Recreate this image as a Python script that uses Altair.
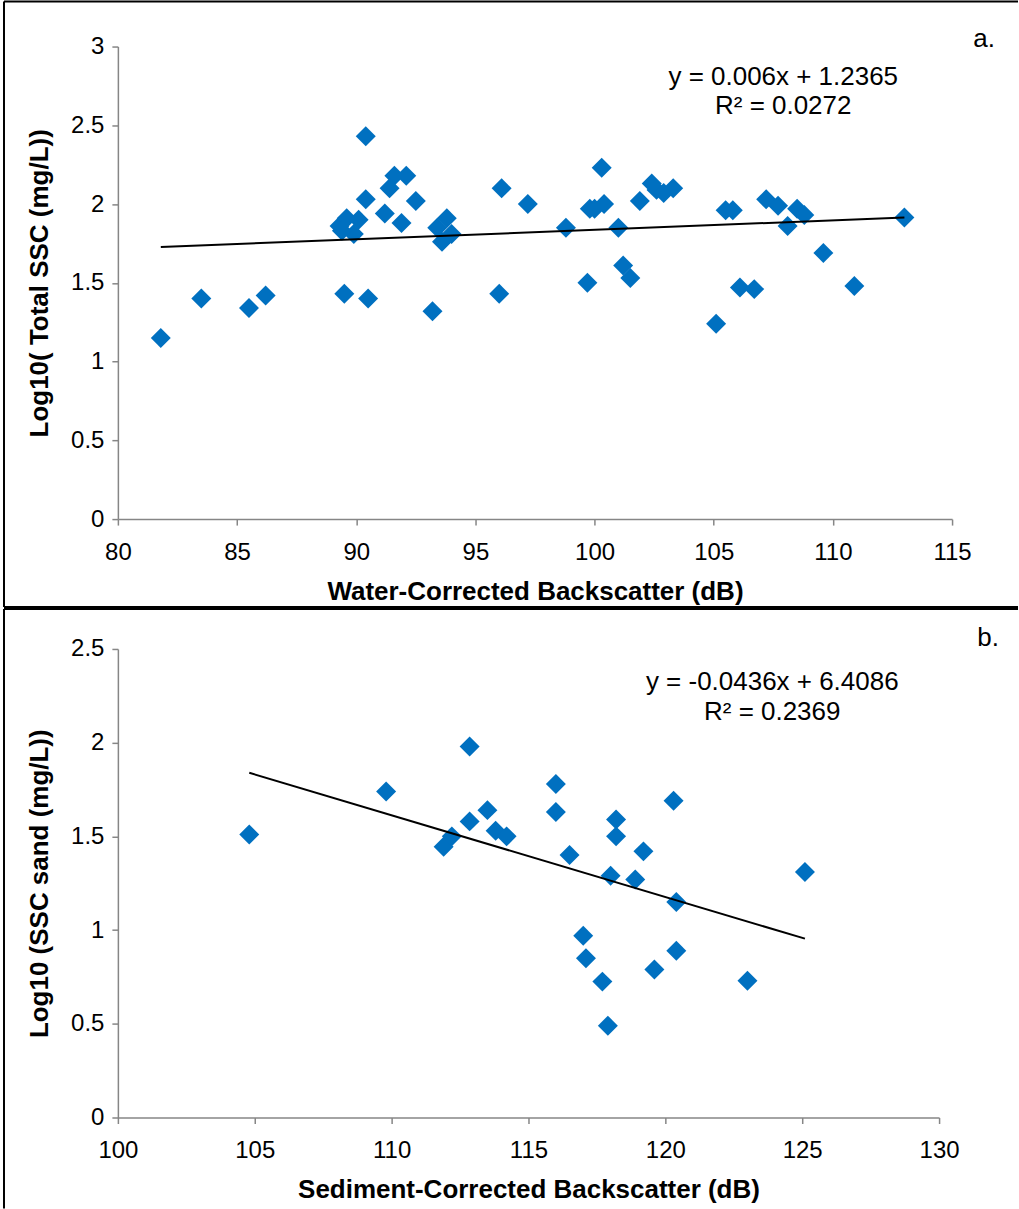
import altair as alt
import pandas as pd

# ---- Panel a: Water-corrected backscatter vs log10 total SSC ----
a_x = [81.8, 83.5, 85.5, 86.2, 89.5, 90.5, 93.2, 96.0, 99.7, 101.2, 101.5, 105.1, 106.1, 106.7,
       109.6, 110.9, 113.0,
       90.4, 91.6, 92.1, 91.4, 90.4, 92.5, 91.2, 91.9,
       89.3, 89.6, 90.1, 89.9, 89.4,
       93.8, 93.4, 94.0, 93.6,
       96.1, 97.2, 98.8, 100.3, 99.8, 100.0, 100.4, 101.0, 101.9, 102.4, 102.6, 102.9, 103.3,
       105.5, 105.8, 107.2, 107.7, 108.5, 108.8, 108.1]
a_y = [1.15, 1.40, 1.34, 1.42, 1.43, 1.40, 1.32, 1.43, 1.50, 1.61, 1.53, 1.24, 1.47, 1.46,
       1.69, 1.48, 1.915,
       2.43, 2.18, 2.18, 2.10, 2.03, 2.02, 1.94, 1.88,
       1.86, 1.91, 1.90, 1.81, 1.83,
       1.91, 1.85, 1.81, 1.76,
       2.10, 2.00, 1.85, 2.23, 1.97, 1.97, 2.00, 1.85, 2.02, 2.13, 2.09, 2.07, 2.10,
       1.96, 1.96, 2.03, 1.99, 1.97, 1.93, 1.86]
a_slope, a_intercept = 0.006, 1.2365
a_eq = "y = 0.006x + 1.2365"
a_r2 = "R² = 0.0272"

# ---- Panel b: Sediment-corrected backscatter vs log10 SSC sand ----
b_x = [104.8, 109.8, 112.85, 112.85, 113.5, 113.8, 114.2, 111.9, 112.2, 116.0, 116.0, 116.5,
       118.2, 118.2, 119.2, 120.3, 120.4, 118.9, 118.0, 117.0, 117.1, 117.7, 117.9, 119.6,
       120.4, 123.0, 125.1]
b_y = [1.51, 1.74, 1.98, 1.58, 1.64, 1.53, 1.50, 1.445, 1.50, 1.78, 1.63, 1.40,
       1.59, 1.50, 1.42, 1.69, 1.15, 1.27, 1.29, 0.97, 0.85, 0.725, 0.49, 0.79,
       0.89, 0.73, 1.31]
b_slope, b_intercept = -0.0436, 6.4086
b_eq = "y = -0.0436x + 6.4086"
b_r2 = "R² = 0.2369"

BLUE = "#0070C0"
FONT = "Liberation Sans"


def frame_rule(x, x2, y, y2):
    return alt.Chart(pd.DataFrame({"d": [0]})).mark_rule(
        color="black", strokeWidth=2
    ).encode(x=alt.value(x), x2=alt.value(x2), y=alt.value(y), y2=alt.value(y2))


def label(text, x, y, size=26):
    return alt.Chart(pd.DataFrame({"d": [0]})).mark_text(
        font=FONT, fontSize=size, color="black", align="center", baseline="middle"
    ).encode(x=alt.value(x), y=alt.value(y), text=alt.value(text))


def panel(xs, ys, slope, intercept, xdom, ydom, xtitle, ytitle, eq, r2, tag,
          w, h, eq_pos, tag_pos, frames):
    df = pd.DataFrame({"x": xs, "y": ys})
    tx = [min(xs), max(xs)]
    tdf = pd.DataFrame({"x": tx, "y": [slope * v + intercept for v in tx]})
    xs_scale = alt.Scale(domain=xdom, nice=False, zero=False)
    ys_scale = alt.Scale(domain=ydom, nice=False)
    xaxis = alt.Axis(title=xtitle, values=list(range(xdom[0], xdom[1] + 1, 5)), format="d")
    yvals = [i * 0.5 for i in range(int(ydom[1] / 0.5) + 1)]
    yaxis = alt.Axis(title=ytitle, values=yvals, format=".1~f")
    pts = alt.Chart(df).mark_point(
        shape="diamond", filled=True, size=400, color=BLUE, opacity=1
    ).encode(x=alt.X("x:Q", scale=xs_scale, axis=xaxis),
             y=alt.Y("y:Q", scale=ys_scale, axis=yaxis))
    line = alt.Chart(tdf).mark_line(color="black", strokeWidth=2).encode(
        x=alt.X("x:Q", scale=xs_scale), y=alt.Y("y:Q", scale=ys_scale))
    layers = [pts, line,
              label(eq, eq_pos[0], eq_pos[1]),
              label(r2, eq_pos[0], eq_pos[1] + 30),
              label(tag, tag_pos[0], tag_pos[1])]
    layers += [frame_rule(*f) for f in frames]
    return alt.layer(*layers).properties(width=w, height=h)


top = panel(a_x, a_y, a_slope, a_intercept, [80, 115], [0, 3],
            "Water-Corrected Backscatter (dB)", "Log10( Total SSC (mg/L))",
            a_eq, a_r2, "a.", 835, 473, (666, 30), (867, -8),
            [(-114, 901, -45, -45), (-114, -114, -45, 561), (-114, 901, 561, 561)])

bottom = panel(b_x, b_y, b_slope, b_intercept, [100, 130], [0, 2.5],
               "Sediment-Corrected Backscatter (dB)", "Log10 (SSC sand (mg/L))",
               b_eq, b_r2, "b.", 822, 469, (655, 33), (871, -11),
               [(-114, 901, -40, -40), (-114, -114, -40, 560)])

chart = alt.vconcat(top, bottom, spacing=0).properties(
    padding={"left": 3, "top": 0, "right": 0, "bottom": 0}
).configure_view(stroke=None).configure_axis(
    grid=False, labelFlush=False,
    domainColor="#868686", domainWidth=1.5,
    tickColor="#868686", tickWidth=1.5, tickSize=6,
    labelFont=FONT, labelFontSize=24, labelColor="black", labelPadding=8,
    titleFont=FONT, titleFontSize=26, titleFontWeight="bold", titleColor="black",
).configure_axisX(titlePadding=14, labelPadding=15).configure_axisY(titlePadding=18)

chart.save("out.html", embed_options={"renderer": "svg", "actions": False})
